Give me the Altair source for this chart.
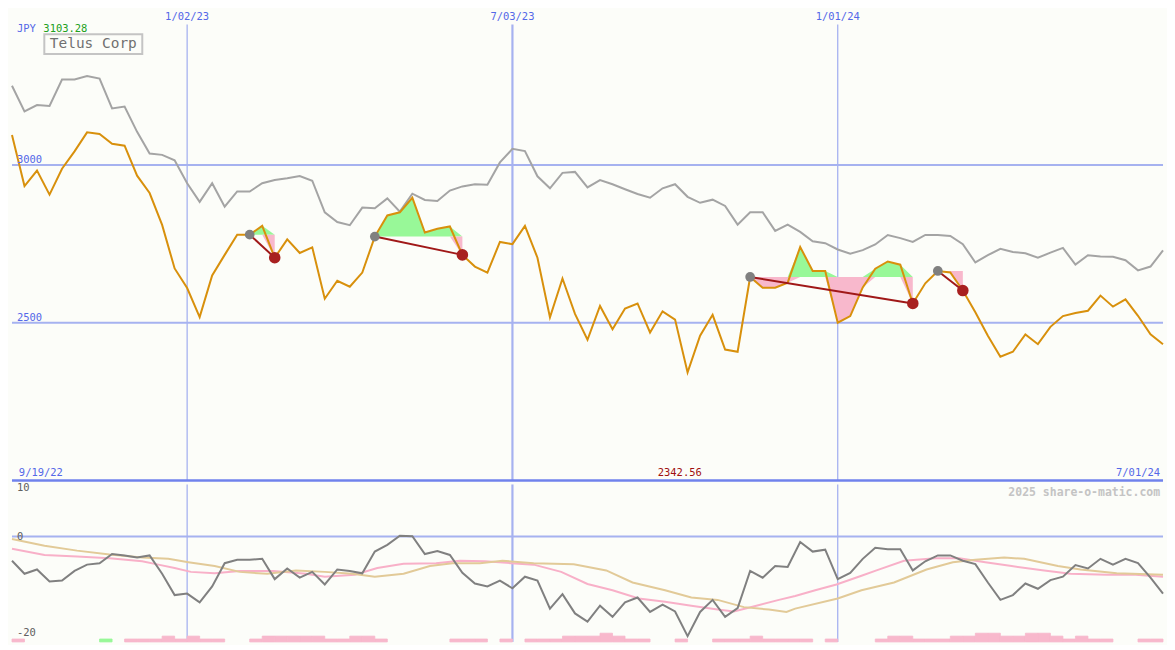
import altair as alt
import pandas as pd

# ---------------- data ----------------
# weekly closes, week 0 = left edge, week 92 = right edge (7/01/24)
price = [3095, 2933, 2982, 2906, 2988, 3043, 3103.28, 3098, 3067, 3061,
         2966, 2911, 2810, 2672, 2610, 2518, 2650, 2715, 2779, 2779,
         2807, 2706, 2764, 2721, 2739, 2576, 2633, 2614, 2659, 2773,
         2840, 2850, 2896, 2786, 2798, 2805, 2715, 2678, 2659, 2756,
         2749, 2807, 2706, 2517, 2640, 2528, 2446, 2553, 2479, 2545,
         2561, 2469, 2536, 2510, 2342.56, 2459, 2525, 2415, 2408, 2645,
         2611, 2611, 2627, 2740, 2664, 2664, 2500, 2521, 2612, 2671,
         2694, 2684, 2561, 2625, 2664, 2659, 2602, 2533, 2459, 2392,
         2408, 2463, 2432, 2487, 2521, 2531, 2538, 2586, 2551, 2574,
         2522, 2463, 2432]

# comparison (grey) line, in the same price units
comp = [3251, 3170, 3190, 3187, 3271, 3271, 3282, 3274, 3179, 3185,
        3105, 3036, 3032, 3015, 2942, 2883, 2942, 2868, 2916, 2916,
        2942, 2952, 2958, 2965, 2950, 2850, 2819, 2809, 2865, 2863,
        2894, 2852, 2909, 2889, 2886, 2919, 2932, 2939, 2937, 3008,
        3051, 3044, 2964, 2926, 2975, 2978, 2929, 2952, 2939, 2923,
        2908, 2896, 2926, 2939, 2899, 2880, 2890, 2870, 2811, 2850,
        2850, 2791, 2811, 2788, 2758, 2752, 2732, 2719, 2730, 2748,
        2778, 2768, 2756, 2778, 2778, 2775, 2749, 2691, 2714, 2734,
        2724, 2720, 2706, 2722, 2737, 2684, 2714, 2710, 2709, 2698,
        2666, 2678, 2729]

# lower panel oscillator (grey)
osc = [-5.0, -7.7, -6.8, -9.3, -9.1, -7.1, -5.8, -5.5, -3.6, -3.9,
       -4.3, -3.9, -7.7, -12.1, -11.8, -13.6, -10.3, -5.5, -4.8, -4.8,
       -4.6, -8.8, -6.6, -8.5, -7.3, -9.9, -6.8, -7.1, -7.6, -3.1,
       -1.7, 0.2, 0.1, -3.6, -3.0, -3.8, -7.5, -9.7, -10.3, -9.1,
       -10.7, -8.3, -9.1, -14.9, -11.9, -15.9, -17.6, -14.3, -16.6, -13.6,
       -12.6, -15.6, -14.1, -15.5, -20.6, -15.6, -13.1, -16.6, -14.8, -7.1,
       -8.5, -6.1, -6.3, -1.1, -3.1, -2.7, -8.8, -7.5, -4.6, -2.3,
       -2.6, -2.6, -7.0, -5.1, -3.9, -3.9, -5.0, -5.7, -9.5, -13.1,
       -12.1, -9.7, -10.8, -9.0, -8.3, -5.9, -6.6, -4.6, -5.8, -4.6,
       -5.5, -8.5, -11.8]

# smoothed lines of the lower panel (week position, value)
pink_w = [0, 2.6, 5.2, 7.8, 10.4, 11.7, 13, 14.3, 16.2, 18.2, 20.9, 23.5, 25, 27.4, 29.2,
          31.3, 33.9, 35.8, 37.8, 39.9, 41.7, 43.9, 46, 48, 50.1, 52.2, 54.3, 56.4, 57.7,
          59.5, 61.3, 62.6, 64.2, 65.9, 67.9, 69.1, 71.3, 73.8, 75.7, 77.8, 79.9, 82.5,
          84.6, 87.5, 89.8, 92]
pink_v = [-2.5, -3.8, -4.1, -4.5, -5.1, -5.8, -6.5, -7.3, -7.6, -7.1, -7.1, -7.7, -8.3, -7.9,
          -6.5, -5.6, -5.5, -5.0, -5.1, -5.5, -5.8, -7.3, -9.8, -11.1, -12.8, -13.5, -14.3,
          -15.1, -15.5, -14.3, -13.1, -12.3, -11.1, -9.9, -8.1, -7.0, -5.0, -4.5, -4.5, -5.3,
          -6.1, -7.0, -7.7, -7.9, -7.9, -8.3]
tan_w = [0, 2.6, 5.2, 7.8, 10.4, 12.5, 14.1, 16.2, 18.2, 20.4, 22.7, 25, 27.2, 29, 31.3,
         33.4, 35.2, 37.4, 39.2, 41.7, 44.9, 47.5, 49.6, 52.2, 54.3, 56.4, 58.5, 60.5, 61.9,
         62.6, 66, 67.9, 70.5, 73.1, 75.2, 77, 79.3, 80.9, 83.6, 85.4, 88.3, 92]
tan_v = [-0.5, -1.9, -2.9, -3.7, -4.3, -4.6, -5.3, -6.1, -7.3, -7.7, -7.0, -7.3, -7.7, -8.3,
         -7.7, -6.1, -5.5, -5.5, -5.0, -5.5, -5.7, -7.0, -9.5, -11.1, -12.6, -13.1, -14.6,
         -15.1, -15.6, -14.9, -12.8, -11.1, -9.5, -6.8, -5.3, -4.8, -4.3, -4.6, -6.1, -6.8,
         -7.6, -7.9]

# bottom strip bars, one per week (0 = none)
bar_level = [1, 0, 0, 0, 0, 0, 0, 1, 0, 1, 1, 1, 2, 1, 2, 1, 1, 0, 0, 1,
             2, 2, 2, 2, 2, 1, 1, 2, 2, 1, 0, 0, 0, 0, 0, 1, 1, 1, 0, 1,
             0, 1, 1, 1, 2, 2, 2, 3, 2, 1, 1, 0, 0, 1, 0, 0, 1, 1, 1, 2,
             1, 1, 1, 1, 0, 1, 0, 0, 0, 1, 2, 2, 1, 1, 1, 2, 2, 3, 3, 2,
             2, 3, 3, 2, 1, 2, 1, 1, 0, 0, 1, 1]
green_bar_weeks = [7]

# trades: entry / exit weeks
trade_entry = [19, 29, 59, 74]
trade_exit = [21, 36, 72, 76]

date_labels = ["1/02/23", "7/03/23", "1/01/24"]
date_weeks = [14, 40, 66]
price_levels = [3000, 2500]
osc_levels = [10, 0, -20]
start_label = "9/19/22"
end_label = "7/01/24"
currency = "JPY"
name = "Telus Corp"
credit = "2025 share-o-matic.com"

# ---------------- layout / style ----------------
W, HT, HB = 1155, 473, 158
SX = W / 1175.0
SYT = HT / 487.0
SYB = HB / 163.0
FONT = "DejaVu Sans Mono"
BLUE = "#5468e8"
GRID = "#a6b2f0"
BG = "#fcfdf9"

PMIN, PMAX = 2000, 3494
OMIN, OMAX = -21.8, 10.8
x_sc = alt.Scale(domain=[0, 92], nice=False, zero=False)
yt_sc = alt.Scale(domain=[PMIN, PMAX], nice=False, zero=False)
yb_sc = alt.Scale(domain=[OMIN, OMAX], nice=False, zero=False)
X = alt.X("week:Q", scale=x_sc, axis=None)
YP = lambda f: alt.Y(f, scale=yt_sc, axis=None)
YO = lambda f: alt.Y(f, scale=yb_sc, axis=None)

df = pd.DataFrame({"week": list(range(len(price))), "price": price, "comp": comp, "osc": osc})
vl = pd.DataFrame({"week": date_weeks, "label": date_labels, "w": [1.3, 2.2, 1.3]})
hl = pd.DataFrame({"price": price_levels, "label": [str(v) for v in price_levels]})

# ---------------- top panel ----------------
t_vrule = alt.Chart(vl).mark_rule(color=GRID).encode(
    x=X, y=alt.value(16 * SYT), y2=alt.value(HT),
    strokeWidth=alt.StrokeWidth("w:Q", scale=None))
t_vlab = alt.Chart(vl).mark_text(font=FONT, fontSize=10.5, color=BLUE, baseline="top", align="center").encode(
    x=X, y=alt.value(3 * SYT), text="label:N")
t_hrule = alt.Chart(hl).mark_rule(color=GRID, strokeWidth=2).encode(y=YP("price:Q"))
t_hlab = alt.Chart(hl).mark_text(font=FONT, fontSize=10.5, color=BLUE, align="left",
                                 baseline="alphabetic", dy=-2).encode(
    x=alt.value(5 * SX), y=YP("price:Q"), text="label:N")
base = pd.DataFrame({"price": [PMIN]})
t_base = alt.Chart(base).mark_rule(color="#7082ec", strokeWidth=2.5).encode(y=YP("price:Q"))

rows = []
for t, (a, b) in enumerate(zip(trade_entry, trade_exit)):
    lvl = price[a]
    for w in range(a, b + 1):
        p = price[w]
        rows.append({"trade": t, "week": w, "level": lvl, "hi": max(p, lvl), "lo": min(p, lvl)})
fills = pd.DataFrame(rows)
t_green = alt.Chart(fills).mark_area(color="#98f898", opacity=1).encode(
    x=X, y=YP("hi:Q"), y2="level:Q", detail="trade:N")
t_pink = alt.Chart(fills).mark_area(color="#f8b8cc", opacity=1).encode(
    x=X, y=YP("lo:Q"), y2="level:Q", detail="trade:N")

t_comp = alt.Chart(df).mark_line(color="#a4a4a4", strokeWidth=2).encode(x=X, y=YP("comp:Q"))
t_price = alt.Chart(df).mark_line(color="#d8900c", strokeWidth=2).encode(x=X, y=YP("price:Q"))

tr = pd.DataFrame({"w0": trade_entry, "w1": trade_exit,
                   "p0": [price[a] for a in trade_entry], "p1": [price[b] for b in trade_exit]})
t_tline = alt.Chart(tr).mark_rule(color="#a01818", strokeWidth=2).encode(
    x=alt.X("w0:Q", scale=x_sc, axis=None), x2="w1:Q", y=YP("p0:Q"), y2="p1:Q")
t_entry = alt.Chart(tr).mark_circle(color="#808080", size=95, opacity=1).encode(
    x=alt.X("w0:Q", scale=x_sc, axis=None), y=YP("p0:Q"))
t_exit = alt.Chart(tr).mark_circle(color="#a82020", size=135, opacity=1).encode(
    x=alt.X("w1:Q", scale=x_sc, axis=None), y=YP("p1:Q"))

imin = price.index(min(price))
row_lab = pd.DataFrame({"week": [0, imin, 92], "price": [PMIN] * 3,
                        "label": [start_label, f"{min(price):.2f}", end_label]})
t_start = alt.Chart(row_lab.iloc[[0]]).mark_text(font=FONT, fontSize=10.5, color=BLUE, align="left",
                                                 baseline="alphabetic", dx=7 * SX, dy=-4).encode(
    x=X, y=YP("price:Q"), text="label:N")
t_min = alt.Chart(row_lab.iloc[[1]]).mark_text(font=FONT, fontSize=10.5, color="#a01010", align="center",
                                               baseline="alphabetic", dx=-8 * SX, dy=-4).encode(
    x=X, y=YP("price:Q"), text="label:N")
t_end = alt.Chart(row_lab.iloc[[2]]).mark_text(font=FONT, fontSize=10.5, color=BLUE, align="right",
                                               baseline="alphabetic", dx=-3 * SX, dy=-4).encode(
    x=X, y=YP("price:Q"), text="label:N")

hdr = pd.DataFrame({"cur": [currency], "mx": [f"{max(price):.2f}"], "name": [name]})
t_cur = alt.Chart(hdr).mark_text(font=FONT, fontSize=10.5, color=BLUE, align="left", baseline="middle").encode(
    x=alt.value(5 * SX), y=alt.value(21 * SYT), text="cur:N")
t_mx = alt.Chart(hdr).mark_text(font=FONT, fontSize=10.5, color="#20a020", align="left", baseline="middle").encode(
    x=alt.value(32 * SX), y=alt.value(21 * SYT), text="mx:N")
t_box = alt.Chart(hdr).mark_rect(fill=BG, stroke="#c4c4c4", strokeWidth=2).encode(
    x=alt.value(33 * SX), x2=alt.value(133 * SX), y=alt.value(26 * SYT), y2=alt.value(46.5 * SYT))
t_name = alt.Chart(hdr).mark_text(font=FONT, fontSize=14.5, color="#707070", align="center", baseline="middle").encode(
    x=alt.value(83 * SX), y=alt.value(36.5 * SYT), text="name:N")

top = alt.layer(t_vrule, t_hrule, t_base, t_green, t_pink, t_comp, t_price, t_tline, t_entry, t_exit,
                t_vlab, t_hlab, t_start, t_min, t_end, t_cur, t_mx, t_box, t_name).properties(width=W, height=HT)

# ---------------- bottom panel ----------------
b_vrule = alt.Chart(vl).mark_rule(color=GRID).encode(x=X, strokeWidth=alt.StrokeWidth("w:Q", scale=None))
zero = pd.DataFrame({"v": [0]})
b_zero = alt.Chart(zero).mark_rule(color=GRID, strokeWidth=2).encode(y=YO("v:Q"))

bars = pd.DataFrame({"week": list(range(len(bar_level))), "level": bar_level})
bars = bars[bars.level > 0].copy()
bars["w1"] = bars.week + 1
bars["base"] = OMIN
bars["top"] = OMIN + bars.level * 0.6
bars["col"] = ["#98f898" if w in green_bar_weeks else "#f8b8cc" for w in bars.week]
b_bars = alt.Chart(bars).mark_rect(strokeWidth=0.8).encode(
    x=X, x2="w1:Q", y=YO("top:Q"), y2="base:Q",
    color=alt.Color("col:N", scale=None), stroke=alt.Stroke("col:N", scale=None))

pk = pd.DataFrame({"week": pink_w, "v": pink_v})
tn = pd.DataFrame({"week": tan_w, "v": tan_v})
b_pink = alt.Chart(pk).mark_line(color="#f8b0c8", strokeWidth=2).encode(x=X, y=YO("v:Q"))
b_tan = alt.Chart(tn).mark_line(color="#e2ca98", strokeWidth=2).encode(x=X, y=YO("v:Q"))
b_osc = alt.Chart(df).mark_line(color="#808080", strokeWidth=2).encode(x=X, y=YO("osc:Q"))

ol = pd.DataFrame({"v": osc_levels, "label": [str(v) for v in osc_levels], "off": [5, -6, 1]})
b_lab = alt.Chart(ol).mark_text(font=FONT, fontSize=10.5, color="#606060", align="left", baseline="middle").encode(
    x=alt.value(5 * SX), y=YO("v:Q"), yOffset=alt.YOffset("off:Q", scale=None), text="label:N")
cr = pd.DataFrame({"t": [credit]})
b_credit = alt.Chart(cr).mark_text(font=FONT, fontSize=11.5, fontWeight="bold", color="#c4c4c4",
                                   align="right", baseline="middle").encode(
    x=alt.value(1172 * SX), y=alt.value(9 * SYB), text="t:N")

bottom = alt.layer(b_vrule, b_zero, b_bars, b_pink, b_tan, b_osc, b_lab, b_credit).properties(width=W, height=HB)

chart = alt.vconcat(top, bottom, spacing=0).properties(padding=0, background=BG).configure_view(strokeWidth=0)
chart.save("out.html", embed_options={"renderer": "svg", "actions": False})
